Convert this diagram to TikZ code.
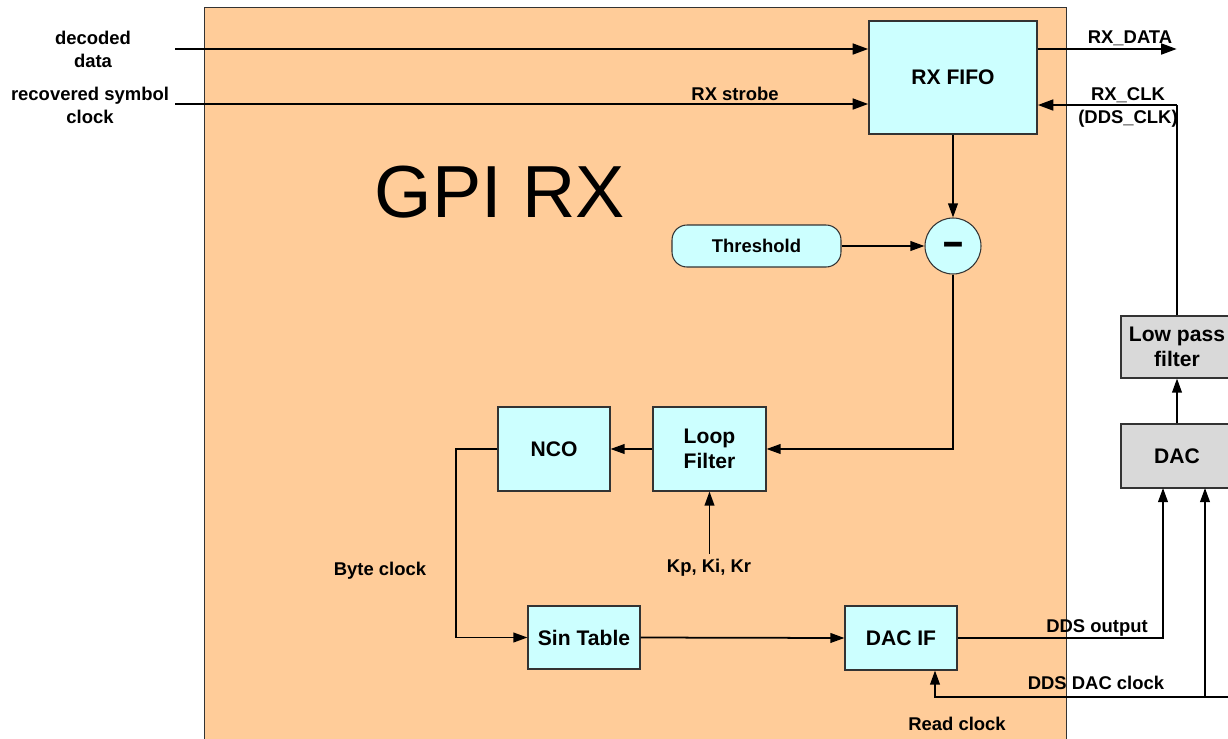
\documentclass[tikz,border=0pt]{standalone}
\usepackage{fontspec}
\setmainfont{Liberation Sans}
\usetikzlibrary{arrows.meta}
\definecolor{peach}{HTML}{FFCC99}
\definecolor{cyanbox}{HTML}{CCFFFF}
\definecolor{graybox}{HTML}{D9D9D9}
\begin{document}
\begin{tikzpicture}[x=0.02cm,y=-0.02cm,
  blk/.style={draw=black!80, line width=0.6pt, fill=cyanbox, font=\fontsize{12}{14}\selectfont\bfseries, align=center, inner sep=0pt},
  gblk/.style={blk, fill=graybox},
  lbl/.style={font=\fontsize{10.5}{13}\selectfont\bfseries, align=center, inner sep=0pt},
  conn/.style={line width=1pt, -{Triangle[length=8pt,width=5.5pt]}},
  thickconn/.style={line width=1.7pt, -{Triangle[length=9pt,width=6pt]}},
  plain/.style={line width=1pt}
]
\clip (0,0) rectangle (1228,738);
\fill[white] (0,0) rectangle (1228,738);
% main block
\node (gpi) [draw=black!80, line width=0.6pt, fill=peach, minimum width=17.24cm, minimum height=15.1cm, anchor=north west, inner sep=0pt] at (204,7) {};
\node (title) [font=\fontsize{42}{46}\selectfont, inner sep=0pt] at (500,192) {GPI RX};
% blocks
\node (fifo) [blk, minimum width=3.36cm, minimum height=2.26cm] at (953,77.5) {RX FIFO};
\node (thr) [blk, rounded corners=0.3cm, minimum width=3.38cm, minimum height=0.84cm, font=\fontsize{10.5}{13}\selectfont\bfseries] at (756.5,246) {Threshold};
\node (minus) [blk, circle, minimum size=1.12cm] at (953,246) {};
\node (msign) [anchor=base, yshift=-6.3pt, inner sep=0pt, font=\fontsize{17}{17}\selectfont\bfseries] at (minus.center) {\scalebox{1.2}[1.6]{–}};
\node (lf) [blk, minimum width=2.26cm, minimum height=1.68cm] at (709.5,449) {Loop\\Filter};
\node (nco) [blk, minimum width=2.24cm, minimum height=1.68cm] at (554,449) {NCO};
\node (st) [blk, minimum width=2.24cm, minimum height=1.26cm] at (584,637.5) {Sin Table};
\node (dacif) [blk, minimum width=2.24cm, minimum height=1.28cm] at (901,638) {DAC IF};
\node (dac) [gblk, minimum width=2.24cm, minimum height=1.28cm] at (1177,456) {DAC};
\node (lpf) [gblk, minimum width=2.24cm, minimum height=1.24cm] at (1177,347) {Low pass\\filter};
% coordinates
\coordinate (dd) at (175,49);
\coordinate (rs) at (175,104);
\coordinate (rxd) at (1177,49);
\coordinate (clk) at (1178,105);
\coordinate (bc) at (456,449);
\coordinate (k) at (709.5,554);
\coordinate (dacin1) at (1163,488);
\coordinate (dacin2) at (1205,488);
\coordinate (clkr) at (1240,697);
\coordinate (rdc) at (935,697);
% connectors
\draw[thickconn] (dd) -- (dd -| fifo.west);
\draw[thickconn] (rs) -- (rs -| fifo.west);
\draw[thickconn] (rxd -| fifo.east) -- (rxd);
\draw[plain] (lpf.north) -- (lpf.north |- clk);
\draw[thickconn] (lpf.north |- clk) -- (clk -| fifo.east);
\draw[conn] (fifo.south) -- (minus.north);
\draw[conn] (thr.east) -- (minus.west);
\draw[conn] (minus.south) |- (lf.east);
\draw[conn] (lf.west) -- (nco.east);
\draw[conn] (k) -- (lf.south);
\draw[conn] (nco.west) -- (bc) |- (st.west);
\draw[conn] (st.east) -- (dacif.west);
\draw[conn] (dacif.east) -| (dacin1);
\draw[conn] (clkr) -- (rdc) -- (rdc |- dacif.south);
\draw[conn] (dacin2 |- clkr) -- (dacin2);
\draw[conn] (dac.north) -- (lpf.south);
% labels
\node (l1) [lbl] at (93,49.5) {decoded\\data};
\node (l2) [lbl] at (90,105.5) {recovered symbol\\clock};
\node (l3) [lbl] at (735,94) {RX strobe};
\node (l4) [lbl] at (1130,38) {RX\_DATA};
\node (l5) [lbl] at (1128,107.5) {RX\_CLK\\(DDS\_CLK)};
\node (l6) [lbl] at (709,568) {Kp, Ki, Kr};
\node (l7) [lbl] at (380,571) {Byte clock};
\node (l8) [lbl] at (1097,628) {DDS output};
\node (l9) [lbl] at (1096,683) {DDS DAC clock};
\node (l10) [lbl] at (957,724) {Read clock};
\end{tikzpicture}
\end{document}
